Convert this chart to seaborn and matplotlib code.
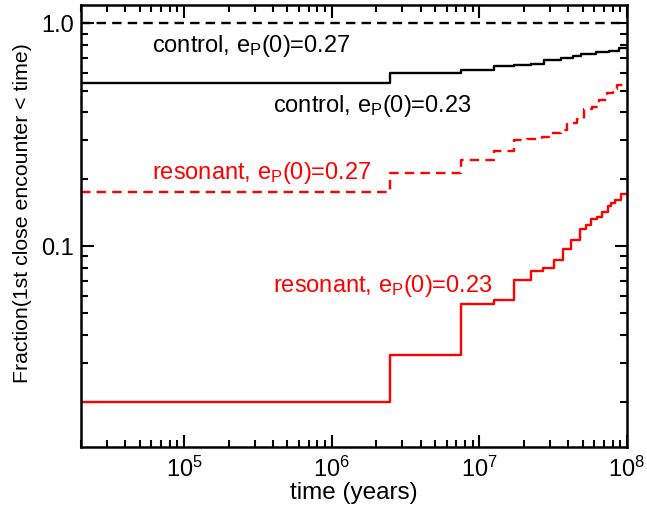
import numpy as np
import pandas as pd
import matplotlib
matplotlib.use("Agg")
import matplotlib.pyplot as plt
import matplotlib.ticker as mticker
import seaborn as sns

# Cumulative fraction of systems that had their first close encounter before t
# (step functions; each value holds until the next time).
t_control_27 = [2e4, 1e8]
f_control_27 = [1.0, 1.0]

t_control_23 = [2e4, 2.5e6, 7.5e6, 1.25e7, 1.72e7, 2.24e7, 2.76e7, 3.6e7, 4.3e7,
                4.9e7, 6.2e7, 7.6e7, 8.9e7, 1e8]
f_control_23 = [0.538, 0.600, 0.621, 0.641, 0.650, 0.659, 0.687, 0.700, 0.713,
                0.726, 0.746, 0.756, 0.772, 0.772]

t_reson_27 = [2e4, 2.5e6, 7.5e6, 1.25e7, 1.72e7, 2.1e7, 2.67e7, 2.95e7, 3.6e7,
              3.9e7, 4.6e7, 5.1e7, 5.8e7, 6.5e7, 7.3e7, 8.0e7, 8.6e7, 1e8]
f_reson_27 = [0.175, 0.214, 0.243, 0.267, 0.299, 0.302, 0.308, 0.324, 0.332,
              0.358, 0.374, 0.412, 0.422, 0.452, 0.485, 0.510, 0.528, 0.528]

t_reson_23 = [2e4, 2.5e6, 7.5e6, 1.25e7, 1.72e7, 2.24e7, 2.68e7, 3.2e7, 3.67e7,
              4.2e7, 4.8e7, 5.3e7, 5.75e7, 6.3e7, 6.8e7, 7.4e7, 7.8e7, 8.3e7,
              9.1e7, 1e8]
f_reson_23 = [0.020, 0.0326, 0.0549, 0.0572, 0.0704, 0.0775, 0.0799, 0.0871,
              0.0969, 0.107, 0.119, 0.125, 0.132, 0.135, 0.1426, 0.152, 0.157,
              0.162, 0.172, 0.172]

labels = ["control, e$_\\mathregular{P}$(0)=0.27",
          "control, e$_\\mathregular{P}$(0)=0.23",
          "resonant, e$_\\mathregular{P}$(0)=0.27",
          "resonant, e$_\\mathregular{P}$(0)=0.23"]

sns.set_theme(style="ticks")
plt.rcParams["font.family"] = ["Liberation Sans", "DejaVu Sans"]
plt.rcParams["text.color"] = "black"
plt.rcParams["axes.labelcolor"] = "black"
plt.rcParams["mathtext.fontset"] = "custom"
plt.rcParams["mathtext.rm"] = "Liberation Sans"
plt.rcParams["mathtext.it"] = "Liberation Sans:italic"
plt.rcParams["mathtext.bf"] = "Liberation Sans:bold"

fig = plt.figure(figsize=(6.47, 5.17), dpi=100)
ax = fig.add_axes([0.1252, 0.1354, 0.969 - 0.1252, 0.9903 - 0.1354])

series = [
    (t_control_27, f_control_27, "black", (0, (4, 2.6))),
    (t_control_23, f_control_23, "black", "-"),
    (t_reson_27, f_reson_27, "red", (0, (4, 2.6))),
    (t_reson_23, f_reson_23, "red", "-"),
]
for t, f, col, ls in series:
    df = pd.DataFrame({"time": t, "frac": f})
    sns.lineplot(data=df, x="time", y="frac", ax=ax, color=col, linestyle=ls,
                 linewidth=1.7, drawstyle="steps-post", estimator=None,
                 sort=False)

ax.set_xscale("log")
ax.set_yscale("log")
ax.set_xlim(2e4, 1e8)
ax.set_ylim(0.01256, 1.21)

ax.xaxis.set_major_locator(mticker.LogLocator(base=10, numticks=10))
ax.xaxis.set_major_formatter(mticker.FuncFormatter(
    lambda v, p: "10$^{%d}$" % round(np.log10(v))))
ax.xaxis.set_minor_locator(mticker.LogLocator(base=10, subs=np.arange(2, 10), numticks=20))
ax.yaxis.set_major_locator(mticker.FixedLocator([0.1, 1.0]))
ax.yaxis.set_major_formatter(mticker.FixedFormatter(["0.1", "1.0"]))
ax.yaxis.set_minor_locator(mticker.LogLocator(base=10, subs=np.arange(2, 10), numticks=20))
ax.yaxis.set_minor_formatter(mticker.NullFormatter())

ax.tick_params(which="both", direction="in", top=True, right=True,
               width=1.5, colors="black", labelcolor="black", labelsize=17)
ax.tick_params(axis="y", pad=5)
ax.tick_params(axis="x", pad=7)
ax.tick_params(which="major", length=9)
ax.tick_params(which="minor", length=5)
for s in ax.spines.values():
    s.set_linewidth(1.8)
    s.set_color("black")

ax.set_xlabel("time (years)", fontsize=17.5)
ax.set_ylabel("Fraction(1st close encounter < time)", fontsize=15.3)
ax.xaxis.set_label_coords(0.5, -0.079)
ax.yaxis.set_label_coords(-0.089, 0.53)

ax.text(6.1e4, 0.746, labels[0], fontsize=17, color="black", va="baseline", ha="left")
ax.text(4.0e5, 0.401, labels[1], fontsize=17, color="black", va="baseline", ha="left")
ax.text(6.1e4, 0.201, labels[2], fontsize=17, color="red", va="baseline", ha="left")
ax.text(4.0e5, 0.0624, labels[3], fontsize=17, color="red", va="baseline", ha="left")

fig.savefig("out.png", dpi=100)
